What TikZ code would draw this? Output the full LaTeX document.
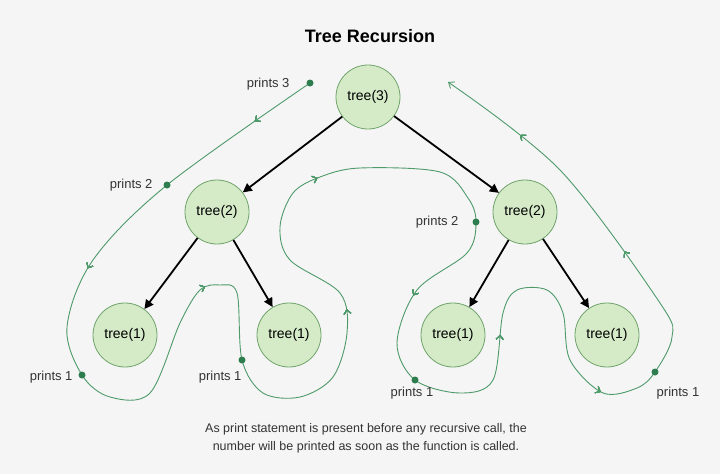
\documentclass[tikz,border=0pt]{standalone}
\usepackage{fontspec}
\setmainfont{Liberation Sans}
\usetikzlibrary{decorations.markings,arrows.meta}
\definecolor{callfill}{HTML}{D5EBC8}
\definecolor{callline}{HTML}{6FA36A}
\definecolor{tracegreen}{HTML}{4E9A6A}
\definecolor{dotgreen}{HTML}{2E7D4F}
\tikzset{
  call/.style={circle, draw=callline, fill=callfill, line width=0.8pt, minimum size=64pt, inner sep=0pt, font=\fontsize{14}{16}\selectfont},
  edge/.style={-{Triangle[length=9pt,width=9pt]}, line width=1.8pt, black},
  dot/.style={circle, fill=dotgreen, inner sep=0pt, minimum size=7pt},
  lbl/.style={font=\fontsize{13}{15}\selectfont, text=black!80},
  mk/.style={postaction={decorate}, decoration={markings,
    mark=at position #1 with {\arrow{Straight Barb[length=4pt,width=7pt]}}}}
}
\begin{document}
\begin{tikzpicture}[x=1pt,y=-1pt]
\fill[black!4] (0,0) rectangle (720,474);
\useasboundingbox (0,0) rectangle (720,474);

% title
\node[font=\bfseries\fontsize{18}{21}\selectfont] (title) at (370,36) {Tree Recursion};

% calls
\node[call] (t3) at (368,97) {tree(3)};
\node[call] (t2l) at (217,212) {tree(2)};
\node[call] (t2r) at (525,212) {tree(2)};
\node[call] (t1a) at (125,335) {tree(1)};
\node[call] (t1b) at (289,335) {tree(1)};
\node[call] (t1c) at (453,335) {tree(1)};
\node[call] (t1d) at (607,335) {tree(1)};

\draw[edge] (t3) -- (t2l);
\draw[edge] (t3) -- (t2r);
\draw[edge] (t2l) -- (t1a);
\draw[edge] (t2l) -- (t1b);
\draw[edge] (t2r) -- (t1c);
\draw[edge] (t2r) -- (t1d);

% trace of the calls
\draw[tracegreen, line width=0.9pt, -{Straight Barb[length=5pt,width=8pt]},
  mk=0.03, mk=0.13, mk=0.27, mk=0.40, mk=0.48, mk=0.61, mk=0.71, mk=0.80, mk=0.89, mk=0.96]
  plot[smooth, tension=0.55] coordinates {
  (310,83) (167,185) (93,260) (67,327) (82,375) (110,397) (150,393) (180,323)
  (200,290) (220,285) (237,293) (242,360) (263,393) (300,397) (333,377)
  (347,333) (340,293) (290,260) (280,227) (293,193) (320,177) (360,168)
  (440,172) (468,198) (476,222) (467,253) (417,290) (397,343) (415,380)
  (460,393) (493,380) (503,313) (517,290) (547,290) (563,313) (570,360)
  (603,393) (637,388) (655,372) (672,337) (660,303) (560,170) (448,82)};

% print points
\node[dot] (p3) at (310,83) {};
\node[dot] (p2l) at (167,185) {};
\node[dot] (p1a) at (82,375) {};
\node[dot] (p1b) at (242,360) {};
\node[dot] (p2r) at (476,222) {};
\node[dot] (p1c) at (415,380) {};
\node[dot] (p1d) at (655,372) {};

\node[lbl, anchor=east] at (293,84) {prints 3};
\node[lbl, anchor=east] at (156,185) {prints 2};
\node[lbl, anchor=east] at (76,377) {prints 1};
\node[lbl, anchor=east] at (245,377) {prints 1};
\node[lbl, anchor=east] at (462,222) {prints 2};
\node[lbl] at (412,393) {prints 1};
\node[lbl] at (678,393) {prints 1};

% caption
\node[lbl, align=center, font=\fontsize{12.5}{18}\selectfont] (note) at (366,438)
  {As print statement is present before any recursive call, the\\
   number will be printed as soon as the function is called.};
\end{tikzpicture}
\end{document}
